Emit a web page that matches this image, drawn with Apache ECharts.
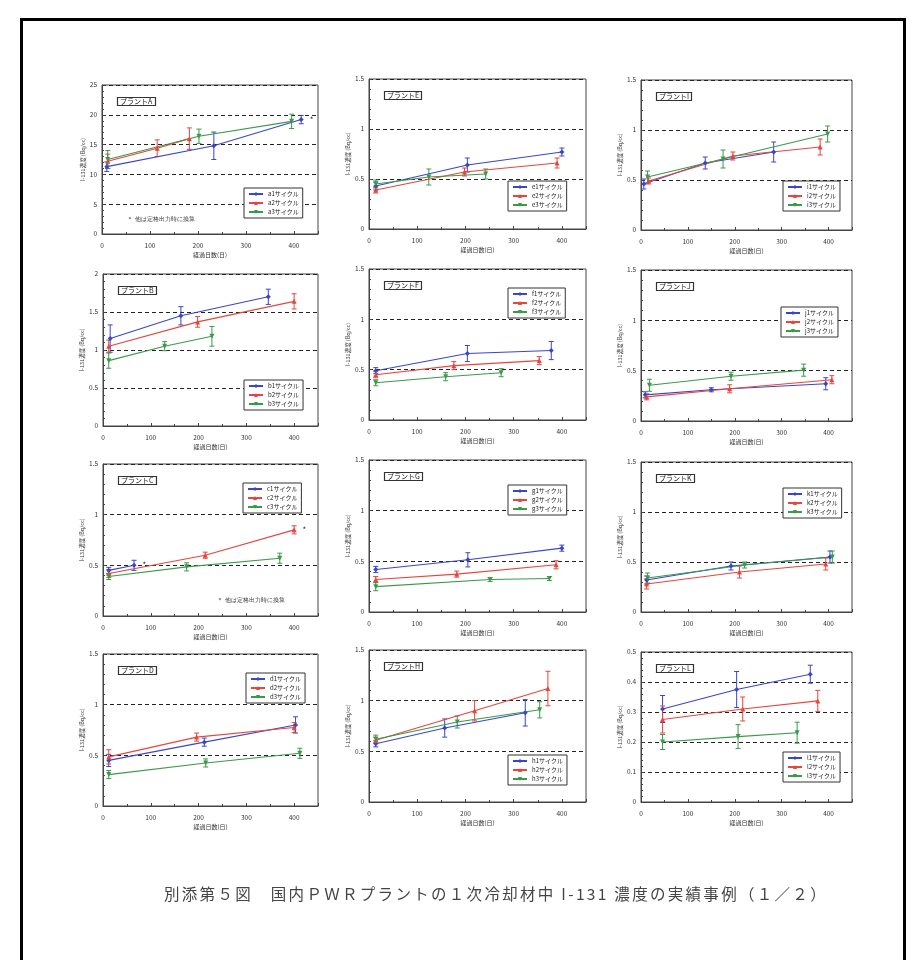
<html>
<head>
<meta charset="utf-8">
<script src="https://cdn.jsdelivr.net/npm/echarts@6/dist/echarts.min.js"></script>
<style>
    body { margin: 0; background: #fff; }
    #main { position: absolute; left: 0; top: 0; width: 924px; height: 960px; }
    #frame {
        position: absolute; left: 20px; top: 18px; width: 880px; height: 960px;
        border: 3px solid #000; border-bottom: none; pointer-events: none;
    }
    #caption {
        position: absolute; left: 0; top: 882px; width: 992px; text-align: center;
        font-family: "Noto Sans CJK JP"; font-size: 15.5px; color: #444; letter-spacing: 2.3px;
    }
</style>
</head>
<body>
<div id="main"></div>
<div id="frame"></div>
<div id="caption">別添第５図　国内ＰＷＲプラントの１次冷却材中 I-131 濃度の実績事例（１／２）</div>
<script>
// panel order: row by row, left to right
var plantNames = ['プラントA', 'プラントE', 'プラントI',
                  'プラントB', 'プラントF', 'プラントJ',
                  'プラントC', 'プラントG', 'プラントK',
                  'プラントD', 'プラントH', 'プラントL'];
var cyclePrefix = ['a', 'e', 'i', 'b', 'f', 'j', 'c', 'g', 'k', 'd', 'h', 'l'];
var yMax  = [25, 1.5, 1.5, 2, 1.5, 1.5, 1.5, 1.5, 1.5, 1.5, 1.5, 0.5];
var yStep = [5, 0.5, 0.5, 0.5, 0.5, 0.5, 0.5, 0.5, 0.5, 0.5, 0.5, 0.1];
var xMax = 450, xStep = 100;

// [days, concentration, error, asterisk]
var plantA = [
    [[10, 11.3, 0.8], [233, 14.8, 2.3], [415, 19.2, 0.7, 1]],
    [[12, 12.2, 1.2], [115, 14.4, 1.4], [182, 16.0, 1.8]],
    [[12, 12.5, 1.5], [202, 16.4, 1.2], [395, 18.9, 1.2]]
];
var plantE = [
    [[14, 0.43, 0.04], [204, 0.64, 0.07], [400, 0.77, 0.04]],
    [[14, 0.39, 0.03], [198, 0.57, 0.04], [390, 0.66, 0.05]],
    [[14, 0.45, 0.04], [124, 0.52, 0.08], [242, 0.55, 0.05]]
];
var plantI = [
    [[6, 0.46, 0.05], [137, 0.67, 0.06], [283, 0.78, 0.1]],
    [[16, 0.49, 0.03], [196, 0.74, 0.04], [382, 0.83, 0.08]],
    [[14, 0.53, 0.06], [175, 0.71, 0.09], [398, 0.96, 0.08]]
];
var plantB = [
    [[15, 1.15, 0.18], [163, 1.45, 0.12], [346, 1.70, 0.1]],
    [[12, 1.05, 0.08], [198, 1.37, 0.07], [400, 1.64, 0.1]],
    [[12, 0.86, 0.1], [129, 1.05, 0.06], [228, 1.18, 0.13]]
];
var plantF = [
    [[14, 0.49, 0.03], [204, 0.66, 0.08], [378, 0.69, 0.09]],
    [[14, 0.45, 0.03], [176, 0.54, 0.04], [353, 0.59, 0.04]],
    [[14, 0.37, 0.03], [159, 0.43, 0.04], [274, 0.47, 0.04]]
];
var plantJ = [
    [[9, 0.26, 0.03], [150, 0.31, 0.02], [394, 0.37, 0.06]],
    [[12, 0.24, 0.03], [189, 0.32, 0.04], [407, 0.41, 0.04]],
    [[18, 0.355, 0.06], [192, 0.445, 0.04], [347, 0.505, 0.06]]
];
var plantC = [
    [[12, 0.45, 0.03], [65, 0.50, 0.05, 1]],
    [[12, 0.42, 0.04], [214, 0.60, 0.03], [400, 0.85, 0.04, 1]],
    [[12, 0.39, 0.03], [175, 0.485, 0.04], [370, 0.57, 0.05]]
];
var plantG = [
    [[14, 0.42, 0.03], [205, 0.515, 0.07], [400, 0.63, 0.03]],
    [[14, 0.32, 0.03], [182, 0.374, 0.03], [388, 0.466, 0.04]],
    [[14, 0.25, 0.04], [251, 0.32, 0.02], [374, 0.33, 0.02]]
];
var plantK = [
    [[12, 0.32, 0.04], [192, 0.46, 0.04], [403, 0.55, 0.06]],
    [[12, 0.28, 0.05], [210, 0.40, 0.06], [394, 0.48, 0.06]],
    [[14, 0.34, 0.05], [221, 0.47, 0.03], [408, 0.55, 0.06]]
];
var plantD = [
    [[12, 0.45, 0.06], [212, 0.63, 0.04], [403, 0.80, 0.08]],
    [[12, 0.485, 0.07], [196, 0.68, 0.04], [400, 0.775, 0.05]],
    [[12, 0.31, 0.04], [215, 0.425, 0.04], [412, 0.52, 0.05]]
];
var plantH = [
    [[14, 0.574, 0.03], [157, 0.73, 0.09], [324, 0.88, 0.13]],
    [[14, 0.61, 0.03], [219, 0.90, 0.1], [371, 1.12, 0.17]],
    [[14, 0.62, 0.04], [183, 0.79, 0.06], [354, 0.91, 0.08]]
];
var plantL = [
    [[46, 0.31, 0.045], [204, 0.375, 0.06], [361, 0.426, 0.03]],
    [[46, 0.275, 0.045], [217, 0.31, 0.04], [377, 0.337, 0.035]],
    [[46, 0.20, 0.025], [207, 0.218, 0.04], [333, 0.231, 0.035]]
];
var plantData = [plantA, plantE, plantI, plantB, plantF, plantJ,
                 plantC, plantG, plantK, plantD, plantH, plantL];

// layout: [left, top, width, height] of each plot box
var boxes = [
    [102, 85, 216, 149], [369, 79, 217, 150], [641, 80, 211, 150],
    [103, 274, 215, 152], [369, 269, 217, 151], [641, 270, 211, 151],
    [103, 464, 215, 152], [369, 460, 217, 152], [641, 462, 211, 150],
    [103, 654, 215, 152], [369, 650, 217, 152], [641, 652, 211, 150]
];
var legendPos = [
    [244, 188], [508, 181], [783, 181],
    [244, 380], [508, 288], [781, 307],
    [243, 483], [508, 485], [783, 488],
    [246, 673], [508, 755], [783, 752]
];
var colors = ['#3a46c8', '#e8453c', '#3a9a48'];
var symbols = ['diamond', 'triangle', 'triangle'];
var symbolRot = [0, 0, 180];

var chart = echarts.init(document.getElementById('main'));
var option = {
    animation: false,
    textStyle: { fontFamily: 'Noto Sans CJK JP' },
    grid: [], xAxis: [], yAxis: [], title: [], legend: [], series: [],
    graphic: []
};

function errorBar(color) {
    return function (params, api) {
        var x = api.value(0), y = api.value(1), e = api.value(2);
        var t = api.coord([x, y + e]), b = api.coord([x, y - e]);
        var st = { stroke: color, lineWidth: 1 };
        return {
            type: 'group',
            children: [
                { type: 'line', shape: { x1: t[0], y1: t[1], x2: b[0], y2: b[1] }, style: st },
                { type: 'line', shape: { x1: t[0] - 2.5, y1: t[1], x2: t[0] + 2.5, y2: t[1] }, style: st },
                { type: 'line', shape: { x1: b[0] - 2.5, y1: b[1], x2: b[0] + 2.5, y2: b[1] }, style: st }
            ]
        };
    };
}

plantNames.forEach(function (pname, i) {
    var bx = boxes[i];
    option.grid.push({
        left: bx[0], top: bx[1], width: bx[2], height: bx[3],
        show: true, borderColor: '#444', borderWidth: 1
    });
    option.xAxis.push({
        gridIndex: i, type: 'value', min: 0, max: xMax, interval: xStep,
        name: '経過日数(日)', nameLocation: 'middle', nameGap: 18,
        nameTextStyle: { fontSize: 6, color: '#333' },
        axisLine: { lineStyle: { color: '#444' } },
        axisTick: { inside: true, length: 3, lineStyle: { color: '#444' } },
        minorTick: { show: true, splitNumber: 2, length: 2, lineStyle: { color: '#444' } },
        axisLabel: {
            fontSize: 6.5, color: '#333', margin: 8,
            formatter: function (v) { return v === xMax ? '' : v; }
        },
        splitLine: { show: false }
    });
    option.yAxis.push({
        gridIndex: i, type: 'value', min: 0, max: yMax[i], interval: yStep[i],
        name: 'I-131濃度 (Bq/cc)', nameLocation: 'middle', nameGap: 14,
        nameTextStyle: { fontSize: 5.5, color: '#333' },
        axisLine: { lineStyle: { color: '#444' } },
        axisTick: { inside: true, length: 3, lineStyle: { color: '#444' } },
        minorTick: { show: true, splitNumber: 5, length: 2, lineStyle: { color: '#444' } },
        axisLabel: { fontSize: 6.5, color: '#333', margin: 5 },
        splitLine: { show: true, lineStyle: { color: '#222', type: [4, 3], width: 1.1 } }
    });
    option.title.push({
        text: pname, left: bx[0] + 15, top: bx[1] + 12,
        padding: [1, 3], borderColor: '#333', borderWidth: 1.2,
        textStyle: { fontSize: 7, fontWeight: 'normal', color: '#222' }
    });
    var names = [];
    plantData[i].forEach(function (rows, k) {
        var sname = cyclePrefix[i] + (k + 1) + 'サイクル';
        names.push(sname);
        option.series.push({
            name: sname, type: 'line', xAxisIndex: i, yAxisIndex: i,
            data: rows, color: colors[k],
            symbol: symbols[k], symbolSize: 5, symbolRotate: symbolRot[k],
            lineStyle: { width: 1.1, color: colors[k] },
            label: {
                show: true, position: 'right', distance: 6, fontSize: 8, color: '#222',
                formatter: function (p) { return p.value[3] ? '*' : ''; }
            }
        });
        option.series.push({
            type: 'custom', xAxisIndex: i, yAxisIndex: i,
            data: rows, encode: { x: 0, y: 1 },
            renderItem: errorBar(colors[k]), z: 3
        });
    });
    option.legend.push({
        data: names, orient: 'vertical',
        left: legendPos[i][0], top: legendPos[i][1],
        backgroundColor: '#fff', borderColor: '#333', borderWidth: 1,
        padding: [3, 4], itemGap: 3, itemWidth: 14, itemHeight: 5,
        textStyle: { fontSize: 6, color: '#222' }
    });
});

// footnotes for the asterisked points
option.graphic.push(
    { type: 'text', left: 127, top: 216, style: { text: '＊ 他は定格出力時に換算', fontSize: 5.5, fill: '#333' } },
    { type: 'text', left: 217, top: 597, style: { text: '＊ 他は定格出力時に換算', fontSize: 5.5, fill: '#333' } }
);

chart.setOption(option);
</script>
</body>
</html>
